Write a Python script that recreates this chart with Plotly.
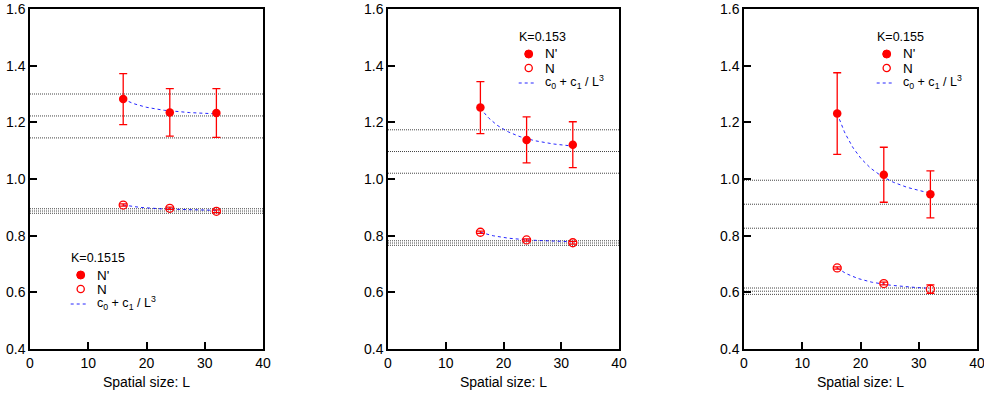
import numpy as np
import plotly.graph_objects as go
from plotly.subplots import make_subplots

# ---- data ----
L = [16, 24, 32]
kappa_labels = ["K=0.1515", "K=0.153", "K=0.155"]

Nprime_vals = [[1.282, 1.235, 1.233], [1.252, 1.138, 1.121], [1.231, 1.015, 0.946]]
Nprime_err = [[0.090, 0.084, 0.086], [0.092, 0.081, 0.081], [0.144, 0.097, 0.083]]
N_vals = [[0.908, 0.8965, 0.886], [0.812, 0.785, 0.775], [0.686, 0.631, 0.611]]
N_err = [[0.004, 0.004, 0.005], [0.004, 0.004, 0.005], [0.004, 0.005, 0.015]]

# fit parameters c0 + c1 / L^3 and error band of c0
c0_Nprime = [1.2225, 1.097, 0.911]
c0err_Nprime = [0.0775, 0.0766, 0.0847]
c1_Nprime = [245, 627, 1309]
c0_N = [0.887, 0.774, 0.604]
c0err_N = [0.008, 0.008, 0.0112]
c1_N = [87, 155, 336]

x_ticks = [0, 10, 20, 30, 40]
y_ticks = [0.4, 0.6, 0.8, 1.0, 1.2, 1.4, 1.6]

# ---- layout geometry (pixel coords) ----
W, H = 984, 402
ML, MR, MT, MB = 30, 7, 9, 402 - 349
PW, PH = W - ML - MR, H - MT - MB
panel_px = [(30, 263), (388, 619), (744, 977)]

def px(x):
    return (x - ML) / PW

def py(y):
    return (H - MB - y) / PH

fig = make_subplots(rows=1, cols=3)

RED = "#ff0000"
BLUE = "rgba(0,0,255,0.85)"
FONT = "Liberation Sans, Arial, sans-serif"

shapes = []
annotations = []
legend_anchor = [(69, 258), (517, 37), (875, 37)]

for i in range(3):
    r, c = 1, i + 1
    xs = "" if i == 0 else str(i + 1)
    Lfit = np.linspace(L[0], L[-1], 80)
    # fits
    fig.add_trace(go.Scatter(x=Lfit, y=c0_Nprime[i] + c1_Nprime[i] / Lfit**3, mode="lines",
                             line=dict(color=BLUE, width=1, dash="3px,3px"), showlegend=False,
                             hoverinfo="skip"), row=r, col=c)
    fig.add_trace(go.Scatter(x=Lfit, y=c0_N[i] + c1_N[i] / Lfit**3, mode="lines",
                             line=dict(color=BLUE, width=1, dash="3px,3px"), showlegend=False,
                             hoverinfo="skip"), row=r, col=c)
    # data
    fig.add_trace(go.Scatter(x=L, y=Nprime_vals[i], mode="markers",
                             marker=dict(symbol="circle", size=8.5, color=RED),
                             error_y=dict(type="data", array=Nprime_err[i], color=RED,
                                          thickness=1.3, width=4),
                             name="N'", showlegend=False), row=r, col=c)
    fig.add_trace(go.Scatter(x=L, y=N_vals[i], mode="markers",
                             marker=dict(symbol="circle-open", size=8, color=RED,
                                         line=dict(width=1.3, color=RED)),
                             error_y=dict(type="data", array=N_err[i], color=RED,
                                          thickness=1.3, width=4),
                             name="N", showlegend=False), row=r, col=c)
    # c0 bands (dotted lines)
    for c0, e in ((c0_Nprime[i], c0err_Nprime[i]), (c0_N[i], c0err_N[i])):
        for v in (c0 + e, c0, c0 - e):
            shapes.append(dict(type="line", xref=f"x{xs} domain", yref=f"y{xs}",
                               x0=0, x1=1, y0=v, y1=v,
                               line=dict(color="#444444", width=1, dash="1px,1px"), layer="below"))

    # manual legend
    ax, ay = legend_anchor[i]
    annotations.append(dict(text=kappa_labels[i], xref="paper", yref="paper",
                            x=px(ax), y=py(ay), xanchor="left", yanchor="middle",
                            showarrow=False, font=dict(size=12.5, color="black", family=FONT)))
    mx, r0 = ax + 11.7, 4
    shapes.append(dict(type="circle", xref="paper", yref="paper",
                       x0=px(mx - r0), x1=px(mx + r0), y0=py(ay + 17 + r0), y1=py(ay + 17 - r0),
                       fillcolor=RED, line=dict(color=RED, width=1)))
    shapes.append(dict(type="circle", xref="paper", yref="paper",
                       x0=px(mx - 3.6), x1=px(mx + 3.6), y0=py(ay + 31 + 3.6), y1=py(ay + 31 - 3.6),
                       fillcolor="rgba(0,0,0,0)", line=dict(color=RED, width=1.3)))
    shapes.append(dict(type="line", xref="paper", yref="paper",
                       x0=px(ax + 1.7), x1=px(ax + 18.3), y0=py(ay + 46), y1=py(ay + 46),
                       line=dict(color=BLUE, width=1, dash="3px,3px")))
    for txt, dy, fs in (("N'", 17, 13.5), ("N", 31, 13.5),
                        ("c<sub>0</sub> + c<sub>1</sub> / L<sup>3</sup>", 45, 12.5)):
        annotations.append(dict(text=txt, xref="paper", yref="paper",
                                x=px(ax + 25.5), y=py(ay + dy), xanchor="left", yanchor="middle",
                                showarrow=False, font=dict(size=fs, color="black", family=FONT)))

    x0p, x1p = panel_px[i]
    fig.update_xaxes(domain=[px(x0p), px(x1p)], range=[0, 40], tickvals=x_ticks,
                     ticks="inside", ticklen=7, tickwidth=1.5, tickcolor="black",
                     showline=True, linecolor="black", linewidth=1.5, mirror=True,
                     showgrid=False, zeroline=False, ticklabeloverflow="allow",
                     title=dict(text="Spatial size: L", font=dict(size=14, family=FONT, color="black"),
                                standoff=8),
                     tickfont=dict(size=14, family=FONT, color="black"), row=r, col=c)
    fig.update_yaxes(domain=[0, 1], range=[0.4, 1.6], tickvals=y_ticks, tickformat=".1f",
                     ticks="inside", ticklen=7, tickwidth=1.5, tickcolor="black",
                     showline=True, linecolor="black", linewidth=1.5, mirror=True,
                     showgrid=False, zeroline=False, ticklabeloverflow="allow",
                     tickfont=dict(size=14, family=FONT, color="black"), row=r, col=c)

fig.update_layout(width=W, height=H, margin=dict(l=ML, r=MR, t=MT, b=MB, autoexpand=False),
                  plot_bgcolor="white", paper_bgcolor="white", showlegend=False,
                  shapes=shapes, annotations=annotations,
                  font=dict(family=FONT, color="black"))

fig.write_html("out.html", config={"displayModeBar": False},
               post_script="document.body.style.margin='0';document.body.style.overflow='hidden';")
